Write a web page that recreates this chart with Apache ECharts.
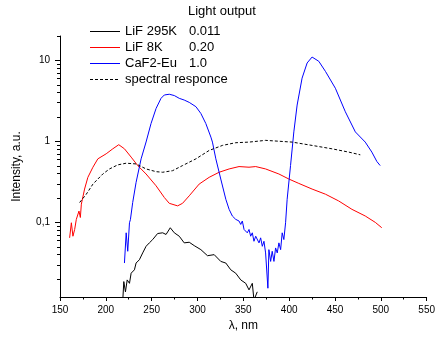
<!DOCTYPE html>
<html>
<head>
<meta charset="utf-8">
<script src="https://cdn.jsdelivr.net/npm/echarts@6/dist/echarts.min.js"></script>
<style>
  html, body { margin: 0; padding: 0; background: #fff; }
  #chart { width: 438px; height: 338px; }
</style>
</head>
<body>
<div id="chart"></div>
<script>
// values (wavelength in nm, intensity in a.u.)
const lif295Wl = [218.5, 219.6, 221.4, 223.3, 225.8, 227.6, 231.2, 233, 236.6, 240.2, 243.9, 247.5, 251.1, 256.5, 262, 265.7, 270.3, 274.7, 280.1, 285.5, 291, 296.4, 303.7, 310.9, 318.2, 325.4, 330.9, 336.3, 341.7, 347.2, 352.6, 356.2, 359.8, 361.6, 365.2];
const lif295Val = [0.011, 0.0186, 0.0139, 0.0195, 0.0177, 0.0236, 0.026, 0.0315, 0.0346, 0.042, 0.0507, 0.0559, 0.0614, 0.0729, 0.0744, 0.071, 0.0859, 0.0744, 0.0675, 0.0559, 0.0569, 0.0517, 0.0461, 0.0388, 0.040, 0.033, 0.0315, 0.026, 0.0236, 0.0195, 0.0177, 0.0147, 0.0177, 0.011, 0.0139];

const lif8Wl = [160.5, 162.4, 164.1, 166, 167.8, 169.6, 170.7, 172.2, 173.3, 176.8, 180.4, 185.9, 191.3, 200.4, 207.6, 214.1, 220.3, 227.6, 234.8, 243.9, 254.8, 263.8, 269.2, 278.3, 283.7, 291, 301.8, 312.7, 323.6, 334.5, 345.3, 356.2, 363.5, 374.3, 388.8, 399.7, 410.5, 425, 439.6, 454, 468.5, 483, 494, 501];
const lif8Val = [0.0645, 0.099, 0.0675, 0.0818, 0.109, 0.115, 0.138, 0.115, 0.168, 0.258, 0.36, 0.48, 0.609, 0.703, 0.81, 0.91, 0.81, 0.64, 0.503, 0.396, 0.283, 0.203, 0.172, 0.16, 0.172, 0.213, 0.297, 0.36, 0.416, 0.457, 0.489, 0.48, 0.489, 0.457, 0.396, 0.343, 0.303, 0.258, 0.223, 0.184, 0.145, 0.12, 0.1, 0.086];

const cafWl = [220.3, 222.2, 223.9, 225.8, 226.8, 229.3, 233, 238.5, 243.9, 249.3, 254.8, 260.2, 263.8, 269.2, 274.7, 280.1, 285.5, 291, 298.3, 303.7, 309.1, 314.6, 316.3, 320, 325.4, 330.9, 334.5, 338, 341.7, 345.3, 347.2, 348.9, 350.8, 354.3, 356.2, 358, 359.8, 361.6, 363.5, 367.1, 368.9, 370.7, 372.5, 374.3, 376.8, 377.9, 379.8, 381.5, 383.4, 385.2, 387, 388.8, 390.7, 392.4, 394.2, 396.1, 397.8, 401.5, 405.1, 408.7, 414.1, 419.6, 425, 432.3, 439.6, 450.4, 461.3, 472.2, 483, 490.2, 495.7, 499.3];
const cafVal = [0.0315, 0.0744, 0.044, 0.099, 0.108, 0.176, 0.312, 0.609, 0.983, 1.66, 2.55, 3.4, 3.74, 3.82, 3.68, 3.4, 3.24, 3.03, 2.68, 2.21, 1.66, 1.13, 0.98, 0.609, 0.343, 0.193, 0.145, 0.12, 0.109, 0.104, 0.0944, 0.104, 0.0818, 0.0744, 0.0818, 0.0675, 0.0744, 0.0585, 0.0675, 0.0559, 0.0645, 0.0507, 0.0585, 0.042, 0.0154, 0.0461, 0.033, 0.044, 0.033, 0.0484, 0.042, 0.0559, 0.0461, 0.0744, 0.0614, 0.099, 0.193, 0.503, 1.31, 2.81, 6.04, 9.29, 11.0, 9.75, 7.31, 4.53, 2.32, 1.31, 0.98, 0.738, 0.564, 0.503];

const specWl = [171.4, 178.7, 185.9, 196.7, 204, 213, 222.2, 233, 243.9, 254.8, 262, 272.8, 283.7, 298.3, 312.7, 327.2, 341.7, 356.2, 374.3, 403.3, 425, 446.7, 464.9, 477.6];
const specVal = [0.176, 0.223, 0.297, 0.396, 0.457, 0.513, 0.538, 0.527, 0.457, 0.423, 0.416, 0.435, 0.503, 0.609, 0.773, 0.892, 0.963, 0.98, 1.03, 0.98, 0.892, 0.81, 0.738, 0.683];

const seriesNames = ["LiF 295K", "LiF 8K", "CaF2-Eu", "spectral responce"];
const lightOutput = ["0.011", "0.20", "1.0", ""];

const xTicks = [150, 200, 250, 300, 350, 400, 450, 500, 550];
const yMajorTicks = [0.1, 1, 10];
const yMinorTicks = [0.02, 0.03, 0.04, 0.05, 0.06, 0.07, 0.08, 0.09,
  0.2, 0.3, 0.4, 0.5, 0.6, 0.7, 0.8, 0.9,
  2, 3, 4, 5, 6, 7, 8, 9, 20];

const colors = ["#000000", "#ff0000", "#0000ff", "#000000"];
const dashes = ["solid", "solid", "solid", [3, 2]];

// legend icons: thin 1px strip (solid) or a row of dashes
const solidIcon = "path://M0,0h30v1h-30z";
const dashIcon = "path://M0,0h3v1h-3zM5,0h3v1h-3zM10,0h3v1h-3zM15,0h3v1h-3zM20,0h3v1h-3zM25,0h3v1h-3zM30,0h0v1h0z";

const zip = (xs, ys) => xs.map((x, i) => [x, ys[i]]);

const font = "Liberation Sans";
const gridBox = { left: 60, right: 10, top: 36, bottom: 41 };
const yMin = 0.012, yMax = 20;

const chart = echarts.init(document.getElementById("chart"), null, { renderer: "canvas" });

const lineSeries = (i, xs, ys) => ({
  name: seriesNames[i],
  type: "line",
  symbol: "none",
  lineStyle: { color: colors[i], width: 1, type: dashes[i] },
  itemStyle: { color: colors[i] },
  data: zip(xs, ys),
});

const option = {
  animation: false,
  textStyle: { fontFamily: font },
  graphic: [
    {
      type: "text",
      left: 188,
      top: 5,
      style: { text: "Light output", font: "13px " + font, fill: "#000" },
    },
  ],
  legend: {
    orient: "vertical",
    left: 85,
    top: 20,
    itemWidth: 30,
    itemHeight: 14,
    itemGap: 3,
    symbolKeepAspect: true,
    data: seriesNames.map((name, i) => ({
      name,
      icon: dashes[i] === "solid" ? solidIcon : dashIcon,
      itemStyle: { color: colors[i], borderWidth: 0 },
    })),
    selectedMode: false,
    textStyle: {
      fontFamily: font,
      fontSize: 13,
      color: "#000",
      rich: {
        n: { width: 64, fontSize: 13, fontFamily: font, color: "#000" },
        v: { fontSize: 13, fontFamily: font, color: "#000" },
      },
    },
    formatter: (name) => {
      const v = lightOutput[seriesNames.indexOf(name)];
      return v ? `{n|${name}}{v|${v}}` : name;
    },
  },
  grid: [
    Object.assign({}, gridBox),
    Object.assign({}, gridBox),
  ],
  xAxis: [
    {
      type: "value",
      gridIndex: 0,
      min: xTicks[0],
      max: xTicks[xTicks.length - 1],
      interval: 50,
      name: "λ, nm",
      nameLocation: "middle",
      nameGap: 23,
      nameTextStyle: { fontFamily: font, fontSize: 12, color: "#000" },
      axisLine: { lineStyle: { color: "#000", width: 1 } },
      axisTick: { length: 4, lineStyle: { color: "#000" } },
      minorTick: { show: true, splitNumber: 2, length: 2.5, lineStyle: { color: "#000" } },
      axisLabel: { fontFamily: font, fontSize: 10, color: "#000", margin: 8 },
      splitLine: { show: false },
    },
    { type: "value", gridIndex: 1, min: 150, max: 550, show: false },
  ],
  yAxis: [
    {
      type: "log",
      gridIndex: 0,
      min: yMin,
      max: yMax,
      name: "Intensity, a.u.",
      nameLocation: "middle",
      nameGap: 37,
      nameTextStyle: { fontFamily: font, fontSize: 12, color: "#000" },
      axisLine: { show: true, lineStyle: { color: "#000", width: 1 } },
      axisTick: { length: 5, customValues: yMajorTicks, lineStyle: { color: "#000" } },
      axisLabel: {
        fontFamily: font,
        fontSize: 10,
        color: "#000",
        margin: 10,
        customValues: yMajorTicks,
        formatter: (v) => String(v).replace(".", ","),
      },
      splitLine: { show: false },
    },
    {
      // minor ticks only
      type: "log",
      gridIndex: 1,
      min: yMin,
      max: yMax,
      axisLine: { show: false },
      axisTick: { length: 3, customValues: yMinorTicks, lineStyle: { color: "#000" } },
      axisLabel: { show: false },
      splitLine: { show: false },
    },
  ],
  series: [
    lineSeries(0, lif295Wl, lif295Val),
    lineSeries(1, lif8Wl, lif8Val),
    lineSeries(2, cafWl, cafVal),
    lineSeries(3, specWl, specVal),
  ],
};

chart.setOption(option);
</script>
</body>
</html>
